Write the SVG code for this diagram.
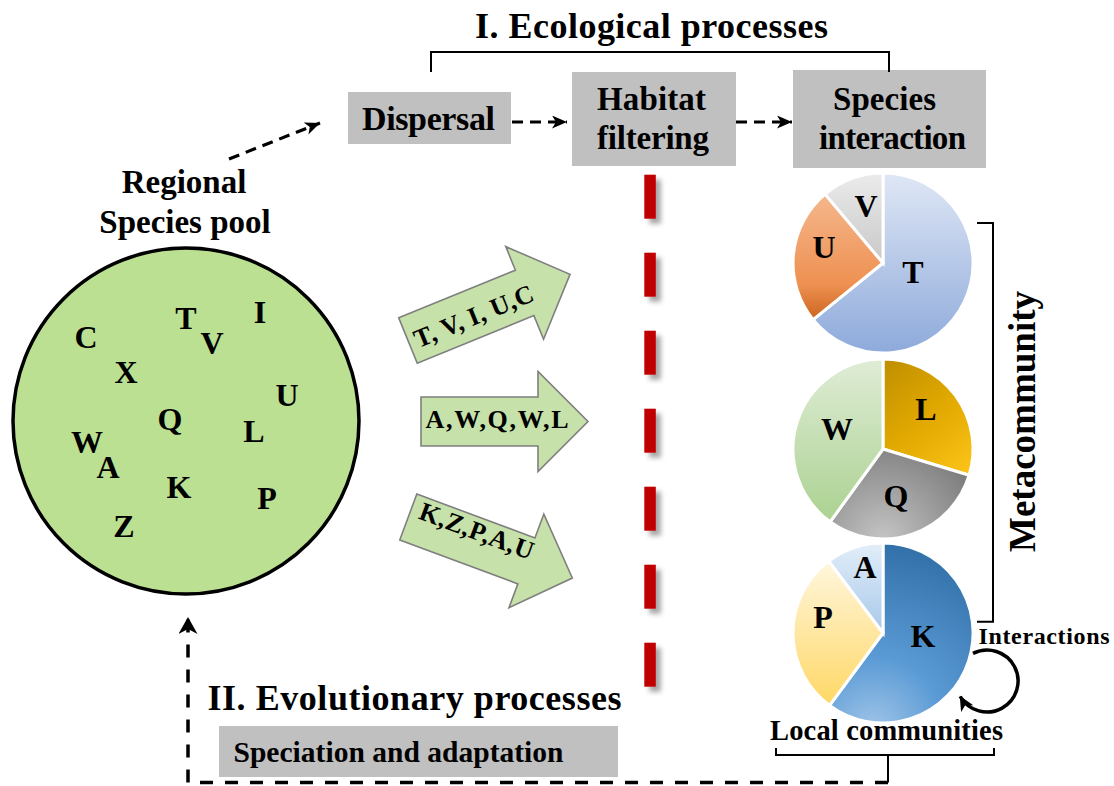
<svg xmlns="http://www.w3.org/2000/svg" width="1114" height="786" viewBox="0 0 1114 786">
<style>
text{font-family:"Liberation Serif","Times New Roman",serif;font-weight:bold;fill:#000}
.box{fill:#c0c0c0}
.lbl{font-size:33px}
.let{font-size:32px;text-anchor:middle}
.arw{fill:#c6e1a9;stroke:#7f7f7f;stroke-width:1.6}
.atx{font-size:26px;text-anchor:middle}
.dash{fill:none;stroke:#000;stroke-width:3.2;stroke-dasharray:11 7}
.brk{fill:none;stroke:#000;stroke-width:2}
.red{fill:#c00000}
.sl{stroke:#fff;stroke-width:3}
</style>
<defs>
<marker id="ah" markerUnits="userSpaceOnUse" markerWidth="18" markerHeight="16" refX="15" refY="6.5" orient="auto">
<path d="M0,0 L15,6.5 L0,13 L4,6.5 Z" fill="#000"/>
</marker>
<marker id="ahb" markerUnits="userSpaceOnUse" markerWidth="20" markerHeight="20" refX="17" refY="9.5" orient="auto">
<path d="M0,0 L17,9.5 L0,19 L5,9.5 Z" fill="#000"/>
</marker>
<marker id="ahc" markerUnits="userSpaceOnUse" markerWidth="18" markerHeight="16" refX="14" refY="7" orient="auto">
<path d="M0,0 L15,7 L0,14 L4,7 Z" fill="#000"/>
</marker>
<filter id="sh" x="-50%" y="-20%" width="250%" height="150%">
<feDropShadow dx="5" dy="5" stdDeviation="2.5" flood-color="#000" flood-opacity="0.35"/>
</filter>
<linearGradient id="gT" gradientUnits="userSpaceOnUse" x1="0" y1="-90" x2="0" y2="90"><stop offset="0" stop-color="#dfe7f5"/><stop offset="1" stop-color="#8eaadb"/></linearGradient>
<linearGradient id="gU" gradientUnits="userSpaceOnUse" x1="0" y1="-70" x2="0" y2="60"><stop offset="0" stop-color="#f5b78d"/><stop offset="0.7" stop-color="#ee9152"/><stop offset="1" stop-color="#c9601a"/></linearGradient>
<linearGradient id="gV" gradientUnits="userSpaceOnUse" x1="0" y1="-90" x2="0" y2="0"><stop offset="0" stop-color="#ebebeb"/><stop offset="1" stop-color="#c8c8c8"/></linearGradient>
<linearGradient id="gW" gradientUnits="userSpaceOnUse" x1="0" y1="-90" x2="0" y2="90"><stop offset="0" stop-color="#dfecd6"/><stop offset="1" stop-color="#a6cf8a"/></linearGradient>
<linearGradient id="gL" gradientUnits="userSpaceOnUse" x1="-10" y1="-90" x2="90" y2="30"><stop offset="0" stop-color="#bb8c00"/><stop offset="0.5" stop-color="#e0a800"/><stop offset="1" stop-color="#ffc71a"/></linearGradient>
<radialGradient id="gQ" gradientUnits="userSpaceOnUse" cx="0" cy="90" r="110"><stop offset="0" stop-color="#c4c4c4"/><stop offset="1" stop-color="#787878"/></radialGradient>
<radialGradient id="gK" gradientUnits="userSpaceOnUse" cx="-10" cy="95" r="200"><stop offset="0" stop-color="#9fc4e8"/><stop offset="0.35" stop-color="#5b9bd5"/><stop offset="1" stop-color="#2c6aa3"/></radialGradient>
<linearGradient id="gP" gradientUnits="userSpaceOnUse" x1="0" y1="-70" x2="0" y2="75"><stop offset="0" stop-color="#fff6dc"/><stop offset="1" stop-color="#ffd763"/></linearGradient>
<linearGradient id="gA" gradientUnits="userSpaceOnUse" x1="0" y1="-90" x2="0" y2="0"><stop offset="0" stop-color="#e2eef9"/><stop offset="1" stop-color="#a8c8ea"/></linearGradient>
</defs>
<rect width="1114" height="786" fill="#fff"/>

<g id="title-ecological">
<text x="475" y="37.5" style="font-size:36px" textLength="353">I. Ecological processes</text>
</g>

<g id="dispersal">
<rect class="box" x="348" y="92" width="163" height="52"/>
<text x="362" y="130" style="font-size:34px" textLength="133">Dispersal</text>
</g>

<g id="habitat-filtering">
<rect class="box" x="572" y="72" width="164" height="94"/>
<text class="lbl" x="597" y="109.5" textLength="109">Habitat</text>
<text class="lbl" x="597" y="148.5" textLength="112">filtering</text>
</g>

<g id="species-interaction">
<rect class="box" x="793" y="70" width="193" height="98"/>
<text class="lbl" x="833" y="109.5" textLength="103">Species</text>
<text class="lbl" x="819" y="148.5" textLength="147">interaction</text>
</g>

<g id="regional-species-pool">
<text class="lbl" x="184" y="192.5" text-anchor="middle">Regional</text>
<text class="lbl" x="185" y="232.5" text-anchor="middle">Species pool</text>
<circle cx="186" cy="421" r="173" fill="#bbe092" stroke="#000" stroke-width="3.5"/>
<text class="let" x="86" y="348">C</text>
<text class="let" x="126" y="383">X</text>
<text class="let" x="186" y="329">T</text>
<text class="let" x="212" y="354">V</text>
<text class="let" x="260" y="323">I</text>
<text class="let" x="287" y="406">U</text>
<text class="let" x="170" y="430">Q</text>
<text class="let" x="254" y="442">L</text>
<text class="let" x="87" y="453">W</text>
<text class="let" x="108" y="478">A</text>
<text class="let" x="179" y="498">K</text>
<text class="let" x="267" y="509">P</text>
<text class="let" x="124" y="537">Z</text>
</g>

<g id="arrow-1" transform="translate(408,340.5) rotate(-22.2)">
<path class="arw" d="M0,-24.5 H126 V-50 L175,0 L126,50 V24.5 H0 Z"/>
<text class="atx" x="70" y="11" textLength="127">T, V, I, U,C</text>
</g>
<g id="arrow-2" transform="translate(421,421.5)">
<path class="arw" d="M0,-24.5 H117 V-50 L167,0 L117,50 V24.5 H0 Z"/>
<text class="atx" x="76" y="6" textLength="143">A,W,Q,W,L</text>
</g>
<g id="arrow-3" transform="translate(408.3,517) rotate(20.4)">
<path class="arw" d="M0,-24.5 H126 V-50 L175,0 L126,50 V24.5 H0 Z"/>
<text class="atx" x="69" y="-2" textLength="120">K,Z,P,A,U</text>
</g>

<g id="filter-line" filter="url(#sh)">
<rect class="red" x="644.3" y="174.7" width="11.5" height="44"/>
<rect class="red" x="644.3" y="252.7" width="11.5" height="44"/>
<rect class="red" x="644.3" y="330.7" width="11.5" height="44"/>
<rect class="red" x="644.3" y="408.7" width="11.5" height="44"/>
<rect class="red" x="644.3" y="486.7" width="11.5" height="44"/>
<rect class="red" x="644.3" y="564.7" width="11.5" height="44"/>
<rect class="red" x="644.3" y="642.7" width="11.5" height="44"/>
</g>

<g id="pie-top" transform="translate(883,263)">
<path class="sl" fill="url(#gT)" d="M0,0 L0,-90 A90,90 0 1 1 -69.9,56.6 Z"/>
<path class="sl" fill="url(#gU)" d="M0,0 L-69.9,56.6 A90,90 0 0 1 -57.9,-68.9 Z"/>
<path class="sl" fill="url(#gV)" d="M0,0 L-57.9,-68.9 A90,90 0 0 1 0,-90 Z"/>
<text class="let" x="-17" y="-46">V</text>
<text class="let" x="-59" y="-5">U</text>
<text class="let" x="30" y="20">T</text>
</g>

<g id="pie-middle" transform="translate(883,449)">
<path class="sl" fill="url(#gL)" d="M0,0 L0,-90 A90,90 0 0 1 86.1,26.3 Z"/>
<path class="sl" fill="url(#gQ)" d="M0,0 L86.1,26.3 A90,90 0 0 1 -52.9,72.8 Z"/>
<path class="sl" fill="url(#gW)" d="M0,0 L-52.9,72.8 A90,90 0 0 1 0,-90 Z"/>
<text class="let" x="43" y="-29">L</text>
<text class="let" x="-46" y="-9">W</text>
<text class="let" x="13" y="58">Q</text>
</g>

<g id="pie-bottom" transform="translate(883,633)">
<path class="sl" fill="url(#gK)" d="M0,0 L0,-90 A90,90 0 1 1 -53.4,72.4 Z"/>
<path class="sl" fill="url(#gP)" d="M0,0 L-53.4,72.4 A90,90 0 0 1 -54.2,-71.9 Z"/>
<path class="sl" fill="url(#gA)" d="M0,0 L-54.2,-71.9 A90,90 0 0 1 0,-90 Z"/>
<text class="let" x="-18" y="-55">A</text>
<text class="let" x="-60" y="-5">P</text>
<text class="let" x="40" y="14">K</text>
</g>

<g id="metacommunity">
<text transform="translate(1035,421.5) rotate(-90)" text-anchor="middle" style="font-size:37px">Metacommunity</text>
</g>

<g id="interactions">
<text x="978.5" y="643.5" style="font-size:24px" textLength="131">Interactions</text>
</g>

<g id="local-communities">
<text x="770" y="740" style="font-size:28.5px" textLength="233">Local communities</text>
</g>

<g id="evolutionary-processes">
<text x="207.5" y="709.5" style="font-size:36px" textLength="414">II. Evolutionary processes</text>
</g>

<g id="speciation-adaptation">
<rect class="box" x="219" y="726" width="399" height="51"/>
<text x="233.5" y="761.5" style="font-size:29.5px" textLength="330">Speciation and adaptation</text>
</g>

<g id="connectors">
<path class="brk" d="M431,72 V52 H889 V72"/>
<path class="dash" d="M229,159 L320,123" stroke-dasharray="13 9" marker-end="url(#ah)"/>
<path class="dash" d="M512,122 H567" marker-end="url(#ah)"/>
<path class="dash" d="M736,122 H792" marker-end="url(#ah)"/>
<path class="brk" d="M977,223 H993 V621.7 H977"/>
<path d="M973,653.4 A31,31 0 1 1 960.2,696.5" fill="none" stroke="#000" stroke-width="3.5" marker-end="url(#ahc)"/>
<path class="brk" d="M776,748 V755 H994 V748 M888,755 V782.5"/>
<path d="M888,782.5 H188 V617" fill="none" stroke="#000" stroke-width="3.5" stroke-dasharray="13 12" marker-end="url(#ahb)"/>
</g>
</svg>
